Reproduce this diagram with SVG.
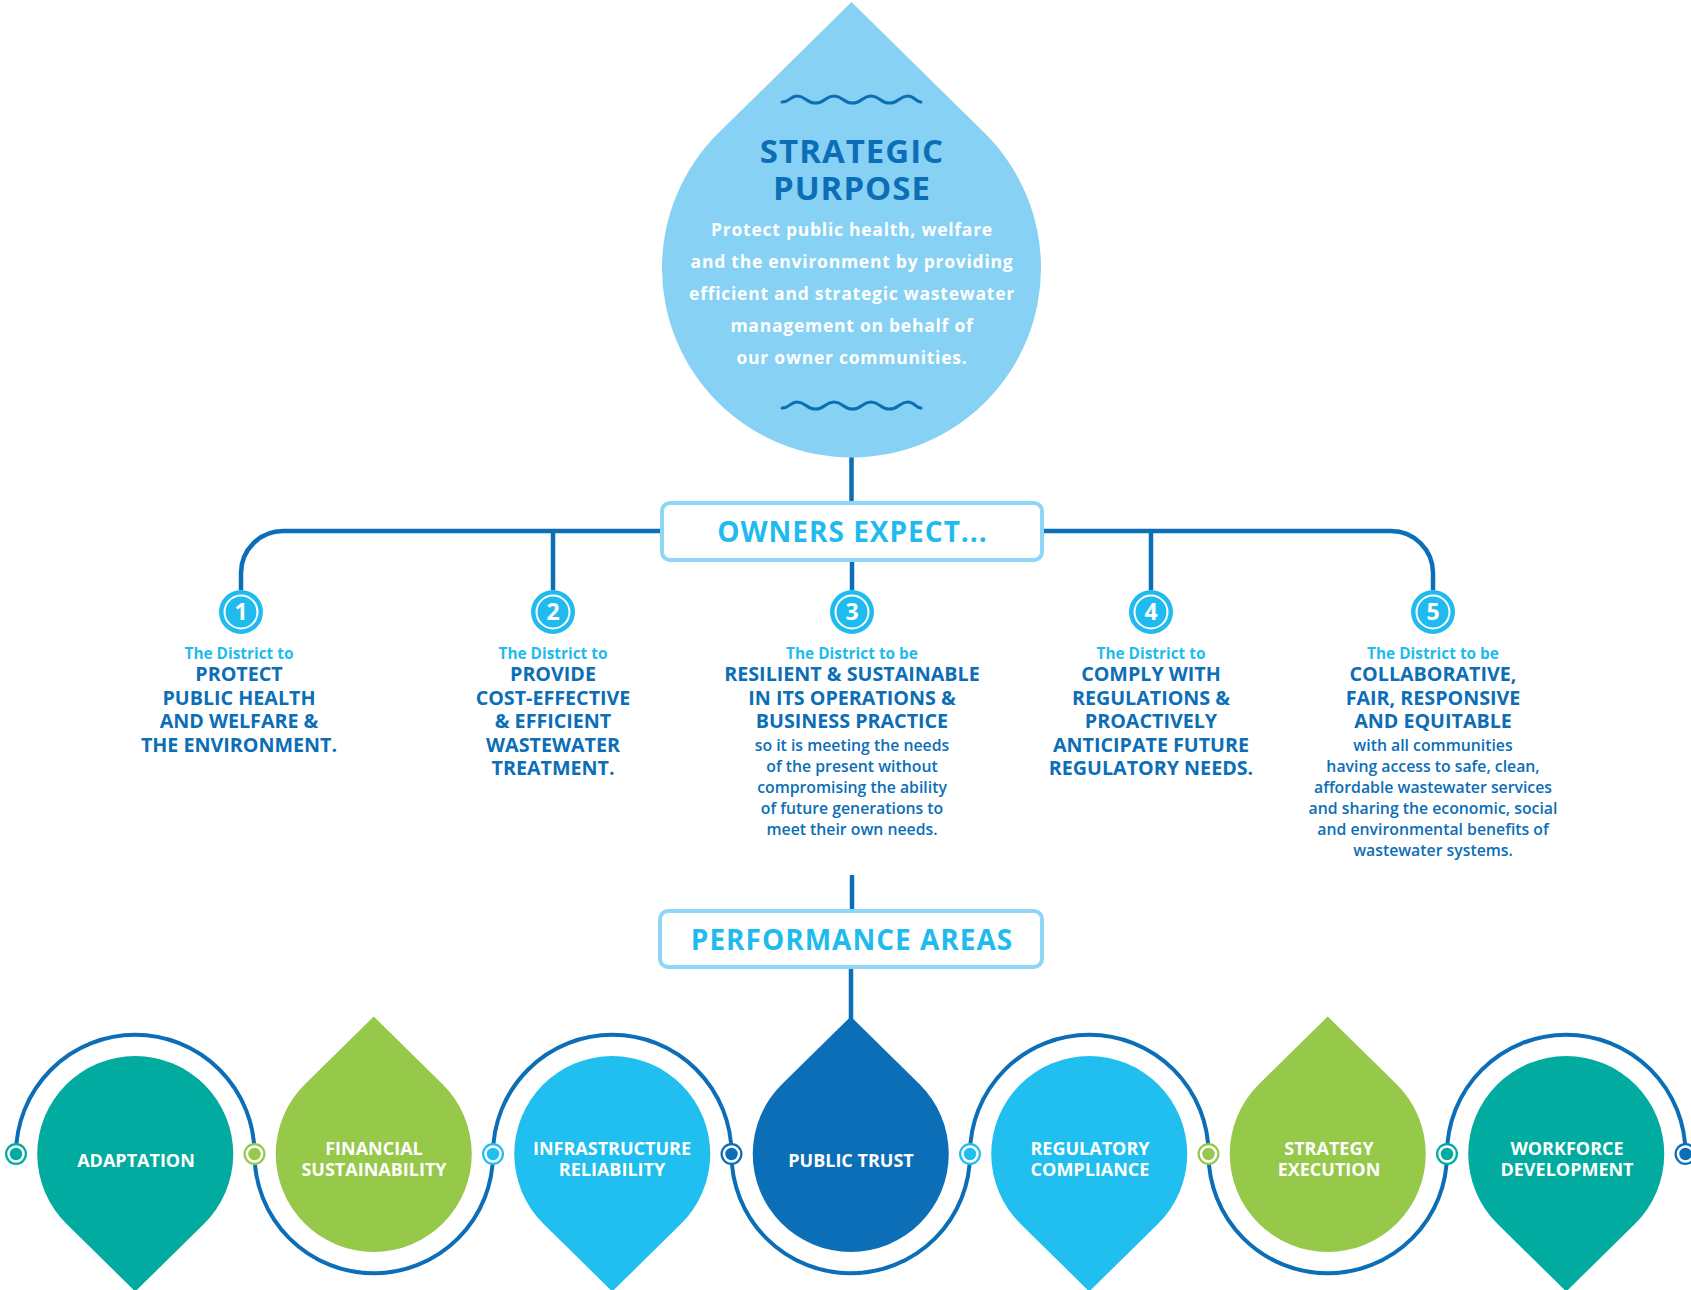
<svg xmlns="http://www.w3.org/2000/svg" width="1691" height="1290" viewBox="0 0 1691 1290">
<style>
  text { font-family: "Open Sans", "Liberation Sans", sans-serif; font-weight: 700; text-anchor: middle; }
  .title { font-size: 33px; fill: #0b6eb7; letter-spacing: 1px; }
  .body { font-size: 17.5px; fill: #ffffff; letter-spacing: 0.75px; }
  .box { fill: #ffffff; stroke: #8fd5f6; stroke-width: 4; }
  .boxtxt { font-size: 28px; fill: #1fbbee; letter-spacing: 1px; }
  .line { stroke: #0b6eb7; stroke-width: 4.5; fill: none; }
  .wave { stroke: #0b6eb7; stroke-width: 3; fill: none; stroke-linecap: round; }
  .badge { fill: #1fbbee; }
  .badgering { fill: none; stroke: #ffffff; stroke-width: 2; }
  .num { font-size: 23px; fill: #ffffff; }
  .intro { font-size: 15.4px; fill: #1fbbee; }
  .head { font-size: 19.7px; fill: #0b6eb7; }
  .small { font-size: 15.8px; fill: #0b6eb7; font-weight: 600; }
  .ring { stroke: #0b6eb7; stroke-width: 4; fill: none; }
  .lbl { font-size: 18px; fill: #ffffff; }
  .teal { fill: #02ab9f; }
  .green { fill: #96c84a; }
  .cyan { fill: #20bfef; }
  .dblue { fill: #0b6eb7; }
  .jring { fill: none; stroke: #ffffff; stroke-width: 2.5; }
</style>

<g id="connectors">
  <line class="line" x1="851.5" y1="455" x2="851.5" y2="503"/>
  <path class="line" d="M 283 531 L 1391 531 A 42 42 0 0 1 1433 573 L 1433 590 M 283 531 A 42 42 0 0 0 241 573 L 241 590"/>
  <line class="line" x1="553" y1="531" x2="553" y2="590"/>
  <line class="line" x1="1151" y1="531" x2="1151" y2="590"/>
  <line class="line" x1="852" y1="560" x2="852" y2="590"/>
  <line class="line" x1="852" y1="875" x2="852" y2="911"/>
  <line class="line" x1="851" y1="967" x2="851" y2="1020"/>
  <path class="ring" d="M 16 1154 A 119.25 119.25 0 0 1 254.5 1154 A 119.25 119.25 0 0 0 493 1154 A 119.25 119.25 0 0 1 731.5 1154 A 119.25 119.25 0 0 0 970 1154 A 119.25 119.25 0 0 1 1208.5 1154 A 119.25 119.25 0 0 0 1447 1154 A 119.25 119.25 0 0 1 1685.5 1154"/>
</g>

<g id="strategic-purpose">
  <path fill="#86d1f4" d="M 851.5 2 L 984.1 132.6 A 189.5 189.5 0 1 1 718.9 132.6 Z"/>
  <path class="wave" d="M 782 102 C 790 102, 790 96, 797 96 C 806 96, 806 103, 815.5 103 C 825 103, 825 96, 834 96 C 843 96, 843 103, 852.5 103 C 862 103, 862 96, 871 96 C 880 96, 880 103, 889.5 103 C 899 103, 899 96, 908 96 C 915 96, 915 102, 921 102"/>
  <text class="title" x="852" y="163">STRATEGIC</text>
  <text class="title" x="852" y="200">PURPOSE</text>
  <text class="body" x="852" y="236">Protect public health, welfare</text>
  <text class="body" x="852" y="268">and the environment by providing</text>
  <text class="body" x="852" y="300">efficient and strategic wastewater</text>
  <text class="body" x="852" y="332">management on behalf of</text>
  <text class="body" x="852" y="364">our owner communities.</text>
  <path class="wave" d="M 782 408 C 790 408, 790 402, 797 402 C 806 402, 806 409, 815.5 409 C 825 409, 825 402, 834 402 C 843 402, 843 409, 852.5 409 C 862 409, 862 402, 871 402 C 880 402, 880 409, 889.5 409 C 899 409, 899 402, 908 402 C 915 402, 915 408, 921 408"/>
</g>

<g id="owners-expect">
  <rect class="box" x="662" y="503" width="380" height="57" rx="8"/>
  <text class="boxtxt" x="852.5" y="542">OWNERS EXPECT...</text>
</g>

<g id="expect-1">
  <circle class="badge" cx="241" cy="612" r="22"/>
  <circle class="badgering" cx="241" cy="612" r="16.5"/>
  <text class="num" x="241" y="620">1</text>
  <text class="intro" x="239" y="659">The District to</text>
  <text class="head" x="239" y="681">PROTECT</text>
  <text class="head" x="239" y="704.5">PUBLIC HEALTH</text>
  <text class="head" x="239" y="728">AND WELFARE &amp;</text>
  <text class="head" x="239" y="751.5">THE ENVIRONMENT.</text>
</g>

<g id="expect-2">
  <circle class="badge" cx="553" cy="612" r="22"/>
  <circle class="badgering" cx="553" cy="612" r="16.5"/>
  <text class="num" x="553" y="620">2</text>
  <text class="intro" x="553" y="659">The District to</text>
  <text class="head" x="553" y="681">PROVIDE</text>
  <text class="head" x="553" y="704.5">COST-EFFECTIVE</text>
  <text class="head" x="553" y="728">&amp; EFFICIENT</text>
  <text class="head" x="553" y="751.5">WASTEWATER</text>
  <text class="head" x="553" y="774.5">TREATMENT.</text>
</g>

<g id="expect-3">
  <circle class="badge" cx="852" cy="612" r="22"/>
  <circle class="badgering" cx="852" cy="612" r="16.5"/>
  <text class="num" x="852" y="620">3</text>
  <text class="intro" x="852" y="659">The District to be</text>
  <text class="head" x="852" y="681">RESILIENT &amp; SUSTAINABLE</text>
  <text class="head" x="852" y="704.5">IN ITS OPERATIONS &amp;</text>
  <text class="head" x="852" y="728">BUSINESS PRACTICE</text>
  <text class="small" x="852" y="750.5">so it is meeting the needs</text>
  <text class="small" x="852" y="771.5">of the present without</text>
  <text class="small" x="852" y="792.5">compromising the ability</text>
  <text class="small" x="852" y="813.5">of future generations to</text>
  <text class="small" x="852" y="834.5">meet their own needs.</text>
</g>

<g id="expect-4">
  <circle class="badge" cx="1151" cy="612" r="22"/>
  <circle class="badgering" cx="1151" cy="612" r="16.5"/>
  <text class="num" x="1151" y="620">4</text>
  <text class="intro" x="1151" y="659">The District to</text>
  <text class="head" x="1151" y="681">COMPLY WITH</text>
  <text class="head" x="1151" y="704.5">REGULATIONS &amp;</text>
  <text class="head" x="1151" y="728">PROACTIVELY</text>
  <text class="head" x="1151" y="751.5">ANTICIPATE FUTURE</text>
  <text class="head" x="1151" y="774.5">REGULATORY NEEDS.</text>
</g>

<g id="expect-5">
  <circle class="badge" cx="1433" cy="612" r="22"/>
  <circle class="badgering" cx="1433" cy="612" r="16.5"/>
  <text class="num" x="1433" y="620">5</text>
  <text class="intro" x="1433" y="659">The District to be</text>
  <text class="head" x="1433" y="681">COLLABORATIVE,</text>
  <text class="head" x="1433" y="704.5">FAIR, RESPONSIVE</text>
  <text class="head" x="1433" y="728">AND EQUITABLE</text>
  <text class="small" x="1433" y="750.5">with all communities</text>
  <text class="small" x="1433" y="771.5">having access to safe, clean,</text>
  <text class="small" x="1433" y="792.5">affordable wastewater services</text>
  <text class="small" x="1433" y="813.5">and sharing the economic, social</text>
  <text class="small" x="1433" y="834.5">and environmental benefits of</text>
  <text class="small" x="1433" y="855.5">wastewater systems.</text>
</g>

<g id="performance-areas">
  <rect class="box" x="660" y="911" width="382" height="56" rx="8"/>
  <text class="boxtxt" x="852" y="950">PERFORMANCE AREAS</text>
</g>

<g id="adaptation">
  <path class="teal" d="M 135.25 1291.5 L 66.65 1224 A 98 98 0 1 1 203.85 1224 Z"/>
  <text class="lbl" x="136" y="1167">ADAPTATION</text>
</g>
<g id="financial-sustainability">
  <path class="green" d="M 373.75 1016.5 L 442.35 1084 A 98 98 0 1 1 305.15 1084 Z"/>
  <text class="lbl" x="374" y="1155">FINANCIAL</text>
  <text class="lbl" x="374" y="1176">SUSTAINABILITY</text>
</g>
<g id="infrastructure-reliability">
  <path class="cyan" d="M 612.25 1291.5 L 543.65 1224 A 98 98 0 1 1 680.85 1224 Z"/>
  <text class="lbl" x="612" y="1155">INFRASTRUCTURE</text>
  <text class="lbl" x="612" y="1176">RELIABILITY</text>
</g>
<g id="public-trust">
  <path class="dblue" d="M 850.75 1016.5 L 919.35 1084 A 98 98 0 1 1 782.15 1084 Z"/>
  <text class="lbl" x="851" y="1167">PUBLIC TRUST</text>
</g>
<g id="regulatory-compliance">
  <path class="cyan" d="M 1089.25 1291.5 L 1020.65 1224 A 98 98 0 1 1 1157.85 1224 Z"/>
  <text class="lbl" x="1090" y="1155">REGULATORY</text>
  <text class="lbl" x="1090" y="1176">COMPLIANCE</text>
</g>
<g id="strategy-execution">
  <path class="green" d="M 1327.75 1016.5 L 1396.35 1084 A 98 98 0 1 1 1259.15 1084 Z"/>
  <text class="lbl" x="1329" y="1155">STRATEGY</text>
  <text class="lbl" x="1329" y="1176">EXECUTION</text>
</g>
<g id="workforce-development">
  <path class="teal" d="M 1566.25 1291.5 L 1497.65 1224 A 98 98 0 1 1 1634.85 1224 Z"/>
  <text class="lbl" x="1567" y="1155">WORKFORCE</text>
  <text class="lbl" x="1567" y="1176">DEVELOPMENT</text>
</g>

<g id="junctions">
  <circle class="teal" cx="16" cy="1154" r="11"/><circle class="jring" cx="16" cy="1154" r="7.5"/>
  <circle class="green" cx="254.5" cy="1154" r="11"/><circle class="jring" cx="254.5" cy="1154" r="7.5"/>
  <circle class="cyan" cx="493" cy="1154" r="11"/><circle class="jring" cx="493" cy="1154" r="7.5"/>
  <circle class="dblue" cx="731.5" cy="1154" r="11"/><circle class="jring" cx="731.5" cy="1154" r="7.5"/>
  <circle class="cyan" cx="970" cy="1154" r="11"/><circle class="jring" cx="970" cy="1154" r="7.5"/>
  <circle class="green" cx="1208.5" cy="1154" r="11"/><circle class="jring" cx="1208.5" cy="1154" r="7.5"/>
  <circle class="teal" cx="1447" cy="1154" r="11"/><circle class="jring" cx="1447" cy="1154" r="7.5"/>
  <circle class="dblue" cx="1685.5" cy="1154" r="11"/><circle class="jring" cx="1685.5" cy="1154" r="7.5"/>
</g>
</svg>
